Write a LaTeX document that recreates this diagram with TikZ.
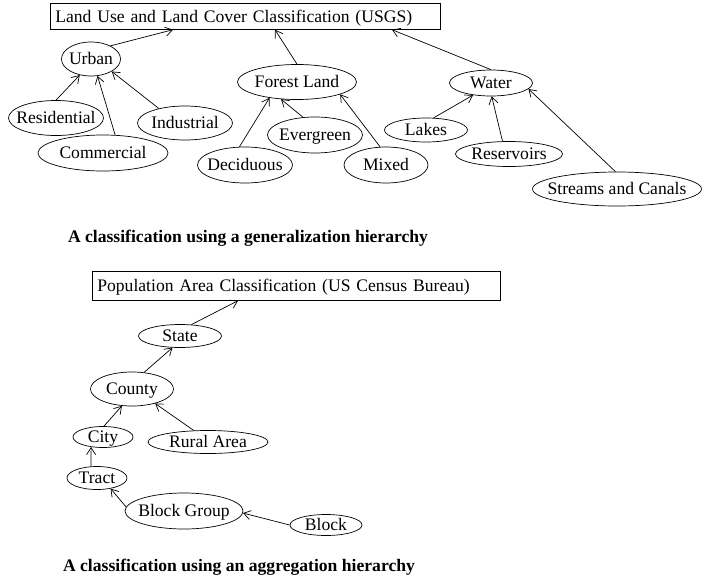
\documentclass[tikz,border=0pt]{standalone}
\usepackage{fontspec}
\setmainfont{Liberation Serif}
\usetikzlibrary{arrows.meta, shapes.geometric}
\tikzset{
  cls/.style 2 args={ellipse, draw, inner sep=0pt,
    minimum width=#1pt, minimum height=#2pt,
    text height=11.6pt, text depth=0pt},
  rootbox/.style={draw, anchor=north west, inner xsep=5pt, inner ysep=0pt,
    text height=11.6pt, text depth=0pt, align=left},
  isa/.style={-{Straight Barb[length=7pt,width=9pt]}, line width=0.7pt},
  caption/.style={font=\fontsize{17.6}{21}\selectfont\bfseries}
}
\newcommand{\inell}[1]{\makebox[0pt]{#1}}

\begin{document}
\begin{tikzpicture}[x=1pt, y=-1pt, font=\fontsize{17.6}{21}\selectfont, line width=0.7pt]
\useasboundingbox (0,0) rectangle (702,579);
% generalization hierarchy
\node[rootbox, text width=380pt, minimum height=26pt] (usgs) at (50,3)
  {Land Use and Land Cover Classification (USGS)};
\node[cls={59}{34}] (urban) at (91,59) {\inell{Urban}};
\node[cls={119}{35}] (forest) at (297,82) {\inell{Forest Land}};
\node[cls={83}{26}] (water) at (491,83) {\inell{Water}};
\node[cls={95}{35}] (res) at (56,118) {\inell{Residential}};
\node[cls={95}{34}] (ind) at (185,123) {\inell{Industrial}};
\node[cls={130}{36}] (com) at (103,153) {\inell{Commercial}};
\node[cls={95}{36}] (dec) at (245,165) {\inell{Deciduous}};
\node[cls={95}{36}] (evg) at (315,135) {\inell{Evergreen}};
\node[cls={84}{36}] (mix) at (386,165) {\inell{Mixed}};
\node[cls={83}{24}] (lakes) at (426,130) {\inell{Lakes}};
\node[cls={107}{25}] (resv) at (509,154) {\inell{Reservoirs}};
\node[cls={169}{34}] (streams) at (617,189) {\inell{Streams and Canals}};

\draw[isa] (urban.34) -- ([xshift=123pt]usgs.south west);
\draw[isa] (forest.north) -- ([xshift=225pt]usgs.south west);
\draw[isa] (water.north) -- ([xshift=342pt]usgs.south west);
\foreach \a/\b in {res.north/urban.235, com.56/urban.291, ind.151/urban.329,
    dec.107/forest.210, evg.124/forest.227, mix.108/forest.344,
    lakes.58/water.214, resv.117/water.273, streams.95/water.351}
  \draw[isa] (\a) -- (\b);

\node[caption] (gencap) at (248,238) {A classification using a generalization hierarchy};

% aggregation hierarchy
\node[rootbox, text width=398pt, minimum height=29pt] (census) at (92,271)
  {Population Area Classification (US Census Bureau)};
\node[cls={83}{23}] (state) at (180,336) {\inell{State}};
\node[cls={83}{34}] (county) at (132,389) {\inell{County}};
\node[cls={60}{21}] (city) at (103,437) {\inell{City}};
\node[cls={120}{23}] (rural) at (208,442) {\inell{Rural Area}};
\node[cls={60}{23}] (tract) at (97,478) {\inell{Tract}};
\node[cls={118}{36}] (bgroup) at (184,511) {\inell{Block Group}};
\node[cls={72}{21}] (block) at (326,525) {\inell{Block}};

\draw[isa] (state.45) -- ([xshift=146pt]census.south west);
\foreach \a/\b in {county.54/state.237, city.85/county.239, rural.141/county.328,
    tract.117/city.220, bgroup.176/tract.322, block.west/bgroup.358}
  \draw[isa] (\a) -- (\b);

\node[caption] (aggcap) at (239,567) {A classification using an aggregation hierarchy};
\end{tikzpicture}
\end{document}
